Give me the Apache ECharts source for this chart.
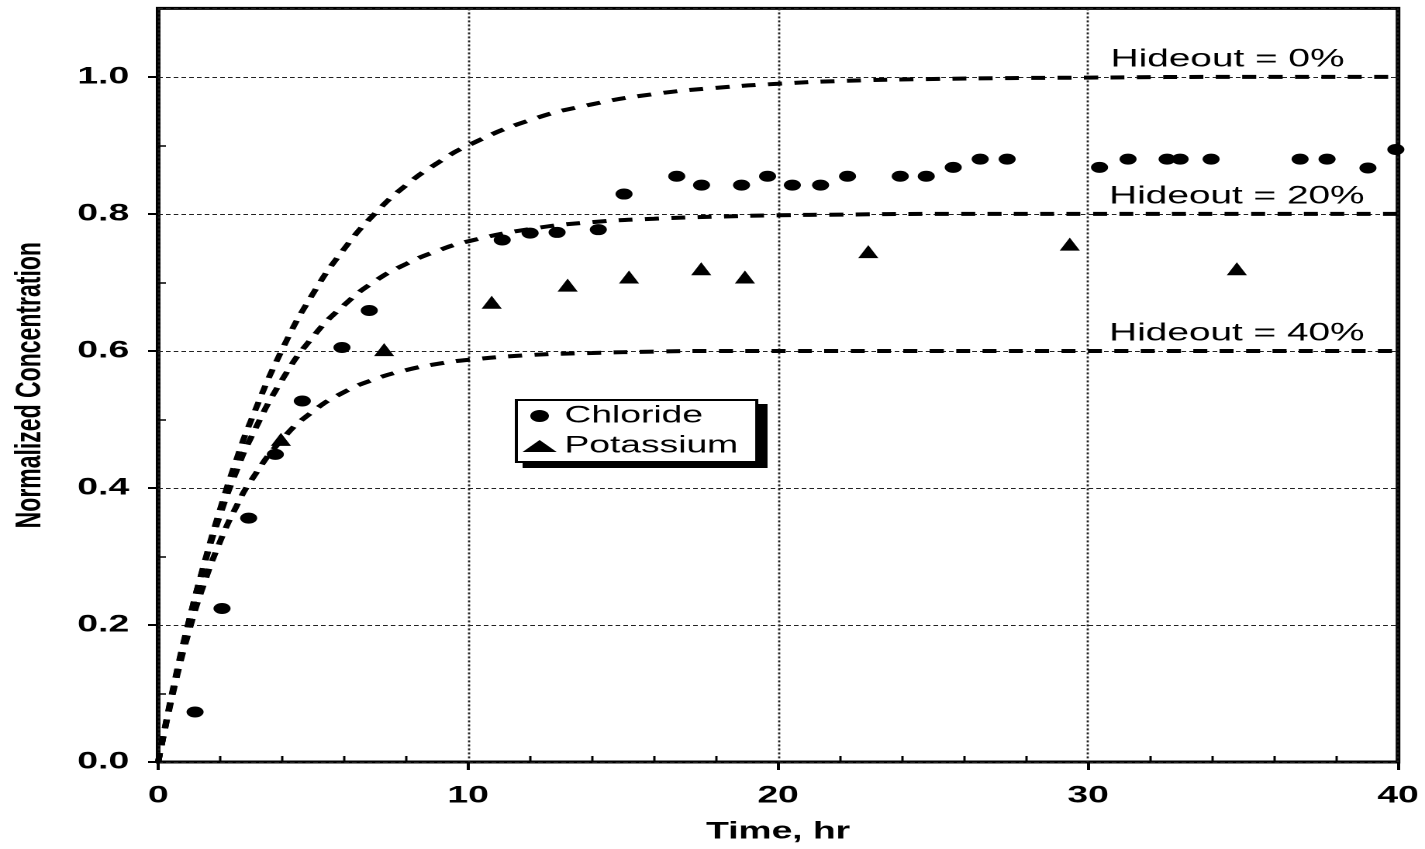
<!DOCTYPE html>
<html>
<head>
<meta charset="utf-8">
<title>Normalized Concentration</title>
<script src="https://cdn.jsdelivr.net/npm/echarts@6/dist/echarts.min.js"></script>
<style>
    html, body { margin: 0; padding: 0; background: #fff; overflow: hidden; }
    /* the scanned figure is stretched sideways, so draw it narrow and widen it */
    #chart { width: 919px; height: 849px; transform: scaleX(1.5506); transform-origin: 0 0; }
</style>
</head>
<body>
<div id="chart"></div>
<script>
    // model curves
    const curveTime = [0, 0.5, 1, 1.5, 2, 2.5, 3, 4, 5, 6, 7, 8, 9, 10, 12, 14, 16, 18, 20, 22, 25, 30, 35, 40];
    const hideout0  = [0, 0.109, 0.206, 0.292, 0.369, 0.438, 0.499, 0.602, 0.684, 0.749, 0.801, 0.842, 0.874, 0.900, 0.937, 0.960, 0.975, 0.984, 0.990, 0.994, 0.997, 0.999, 1.0, 1.0];
    const hideout20 = [0, 0.111, 0.207, 0.290, 0.361, 0.422, 0.474, 0.558, 0.621, 0.667, 0.702, 0.727, 0.746, 0.760, 0.778, 0.788, 0.793, 0.796, 0.798, 0.799, 0.8, 0.8, 0.8, 0.8];
    const hideout40 = [0, 0.105, 0.192, 0.263, 0.322, 0.371, 0.411, 0.471, 0.512, 0.540, 0.559, 0.572, 0.581, 0.587, 0.594, 0.597, 0.599, 0.6, 0.6, 0.6, 0.6, 0.6, 0.6, 0.6];

    // measured points
    const chlorideTime = [1.19, 2.06, 2.92, 3.78, 4.65, 5.93, 6.81, 11.1, 12.0, 12.87, 14.2, 15.03, 16.73, 17.53, 18.82, 19.66, 20.46, 21.37, 22.24, 23.94, 24.78, 25.65, 26.52, 27.39, 30.37, 31.29, 32.55, 32.97, 33.97, 36.84, 37.71, 39.03, 39.93];
    const chlorideConc = [0.073, 0.224, 0.356, 0.449, 0.527, 0.605, 0.659, 0.762, 0.772, 0.773, 0.777, 0.829, 0.855, 0.842, 0.842, 0.855, 0.842, 0.842, 0.855, 0.855, 0.855, 0.868, 0.880, 0.880, 0.868, 0.880, 0.880, 0.880, 0.880, 0.880, 0.880, 0.867, 0.894];
    const potassiumTime = [3.96, 7.29, 10.76, 13.21, 15.19, 17.52, 18.93, 22.91, 29.41, 34.8];
    const potassiumConc = [0.471, 0.602, 0.671, 0.696, 0.708, 0.720, 0.708, 0.745, 0.756, 0.720];

    const xTicks = [0, 10, 20, 30, 40];
    const xMinorTicks = [2, 4, 6, 8, 12, 14, 16, 18, 22, 24, 26, 28, 32, 34, 36, 38];
    const yTicks = [0, 0.2, 0.4, 0.6, 0.8, 1.0];
    const yMinorTicks = [0.1, 0.3, 0.5, 0.7, 0.9];

    const curveNames = ['Hideout = 0%', 'Hideout = 20%', 'Hideout = 40%'];
    const curveLabelTime = [34.5, 34.8, 34.8];
    const curveLevel = [1.0, 0.8, 0.6];

    const font = "'Liberation Sans', Arial, sans-serif";

    function pairs(xs, ys) {
        let out = [];
        for (let i = 0; i < xs.length; i++) {
            out.push([xs[i], ys[i]]);
        }
        return out;
    }

    function curveSeries(idx, values) {
        return {
            name: curveNames[idx],
            type: 'line',
            data: pairs(curveTime, values),
            smooth: true,
            showSymbol: false,
            silent: true,
            lineStyle: { color: '#000', width: 4, type: [9, 8] },
            markPoint: {
                symbol: 'circle',
                symbolSize: 0,
                silent: true,
                label: {
                    show: true,
                    position: 'top',
                    distance: 5,
                    formatter: curveNames[idx],
                    color: '#000',
                    fontSize: 25,
                    fontFamily: font
                },
                data: [{ coord: [curveLabelTime[idx], curveLevel[idx]] }]
            }
        };
    }

    function drawChart() {
        let chart = echarts.init(document.getElementById('chart'), null, { devicePixelRatio: 2 });

        chart.setOption({
            animation: false,
            backgroundColor: '#fff',
            grid: {
                left: 101.3,
                right: 17.4,
                top: 8.4,
                bottom: 86,
                show: true,
                borderColor: '#000',
                borderWidth: 3
            },
            // solid drop shadow behind the legend box
            graphic: [{
                type: 'rect',
                z: 3,
                silent: true,
                shape: { x: 337, y: 404, width: 158, height: 64 },
                style: { fill: '#000' }
            }],
            legend: {
                orient: 'vertical',
                left: 333,
                top: 400,
                padding: [4, 12, 4, 4],
                itemGap: 6,
                itemWidth: 22,
                itemHeight: 12,
                backgroundColor: '#fff',
                borderColor: '#000',
                borderWidth: 2,
                textStyle: { color: '#000', fontSize: 24, fontFamily: font },
                data: ['Chloride', 'Potassium']
            },
            xAxis: [{
                type: 'value',
                min: 0,
                max: 40,
                interval: 10,
                name: 'Time, hr',
                nameLocation: 'middle',
                nameGap: 58,
                nameTextStyle: { color: '#000', fontSize: 24, fontWeight: 'bold', fontFamily: font },
                axisLine: { show: false },
                axisTick: { show: true, length: 8, lineStyle: { color: '#000', width: 2 }, customValues: xTicks },
                axisLabel: { color: '#000', fontSize: 24, fontWeight: 'bold', fontFamily: font, margin: 22, customValues: xTicks },
                splitLine: { show: true, lineStyle: { color: '#222', width: 1.4, type: [2, 2] } }
            }, {
                // minor ticks point into the plot
                type: 'value',
                min: 0,
                max: 40,
                position: 'bottom',
                axisLine: { show: false },
                axisTick: { show: true, inside: true, length: 6, lineStyle: { color: '#000', width: 1.5 }, customValues: xMinorTicks },
                axisLabel: { show: false },
                splitLine: { show: false }
            }],
            yAxis: [{
                type: 'value',
                min: 0,
                max: 1.1,
                interval: 0.1,
                name: 'Normalized Concentration',
                nameLocation: 'middle',
                nameGap: 71,
                nameTextStyle: { color: '#000', fontSize: 23, fontWeight: 'bold', fontFamily: font },
                axisLine: { show: false },
                axisTick: { show: true, length: 6.5, lineStyle: { color: '#000', width: 2 }, customValues: yTicks },
                axisLabel: {
                    color: '#000', fontSize: 24, fontWeight: 'bold', fontFamily: font, margin: 18.7,
                    customValues: yTicks,
                    formatter: function (v) { return v.toFixed(1); }
                },
                splitLine: { show: false }
            }, {
                type: 'value',
                min: 0,
                max: 1.1,
                position: 'left',
                axisLine: { show: false },
                axisTick: { show: true, inside: true, length: 5, lineStyle: { color: '#000', width: 1.5 }, customValues: yMinorTicks },
                axisLabel: { show: false },
                splitLine: { show: false }
            }, {
                // horizontal grid lines only at the labelled values
                type: 'value',
                min: 0,
                max: 1.1,
                position: 'left',
                axisLine: { show: false },
                axisTick: { show: false },
                axisLabel: { show: false, customValues: yTicks },
                splitLine: { show: true, lineStyle: { color: '#222', width: 1, type: [3, 2] } }
            }],
            series: [
                curveSeries(0, hideout0),
                curveSeries(1, hideout20),
                curveSeries(2, hideout40),
                {
                    name: 'Chloride',
                    type: 'scatter',
                    data: pairs(chlorideTime, chlorideConc),
                    symbol: 'circle',
                    symbolSize: 11,
                    itemStyle: { color: '#000', opacity: 1 },
                    z: 5
                },
                {
                    name: 'Potassium',
                    type: 'scatter',
                    data: pairs(potassiumTime, potassiumConc),
                    symbol: 'triangle',
                    symbolSize: 13,
                    itemStyle: { color: '#000', opacity: 1 },
                    z: 5
                }
            ]
        });
    }

    drawChart();
</script>
</body>
</html>
